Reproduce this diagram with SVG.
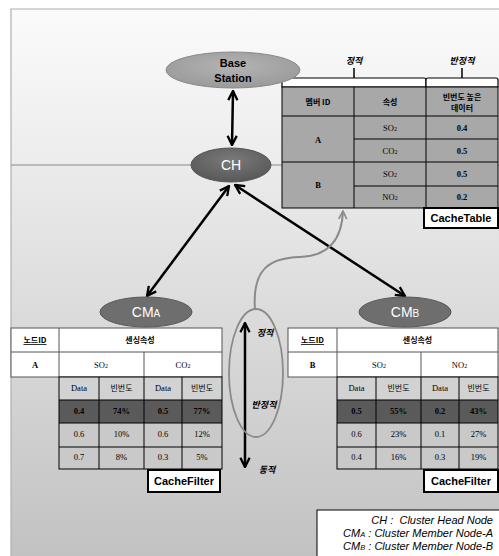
<svg xmlns="http://www.w3.org/2000/svg" width="499" height="556" viewBox="0 0 499 556">
<defs>
<linearGradient id="gTop" x1="0" y1="0" x2="0" y2="1"><stop offset="0" stop-color="#fbfbfb"/><stop offset="1" stop-color="#ececec"/></linearGradient>
<linearGradient id="gBot" x1="0" y1="0" x2="0" y2="1"><stop offset="0" stop-color="#ebebeb"/><stop offset="1" stop-color="#c2c2c2"/></linearGradient>
<radialGradient id="gBS" cx="0.5" cy="0.4" r="0.6"><stop offset="0" stop-color="#b4b4b4"/><stop offset="1" stop-color="#9a9a9a"/></radialGradient>
<radialGradient id="gCH" cx="0.5" cy="0.35" r="0.6"><stop offset="0" stop-color="#7a7a7a"/><stop offset="1" stop-color="#5a5a5a"/></radialGradient>
<marker id="ah" viewBox="0 0 10 10" refX="9" refY="5" markerWidth="4.6" markerHeight="4.6" orient="auto-start-reverse" markerUnits="strokeWidth">
<path d="M1,1 L9,5 L1,9" fill="none" stroke="#000" stroke-width="2"/>
</marker>
<marker id="ahg" viewBox="0 0 10 10" refX="9" refY="5" markerWidth="5" markerHeight="5" orient="auto" markerUnits="strokeWidth">
<path d="M1,1 L9,5 L1,9" fill="none" stroke="#8a8a8a" stroke-width="1.6"/>
</marker>
</defs>
<style>
.t{font-family:"Liberation Serif","Noto Sans CJK KR",serif;font-size:8.5px;fill:#000;text-anchor:middle}
.k{font-family:"Noto Sans CJK KR","Liberation Sans",sans-serif;font-size:8px;fill:#000;text-anchor:middle}
.b{font-weight:bold}
.lbl{font-family:"Liberation Sans","Noto Sans CJK KR",sans-serif;font-weight:bold;font-size:11px;text-anchor:middle;fill:#000}
.node{font-family:"Liberation Sans",sans-serif;font-size:14px;fill:#fff;text-anchor:middle}
.it{font-family:"Noto Sans CJK KR",sans-serif;font-style:italic;font-weight:bold;font-size:9px;fill:#000;text-anchor:middle}
.leg{font-family:"Liberation Sans",sans-serif;font-style:italic;font-size:11px;fill:#000;text-anchor:end}
.conn{stroke:#000;stroke-width:2.5;fill:none}
</style>
<rect x="0" y="0" width="499" height="556" fill="#fff"/>
<rect x="11" y="9" width="488" height="156" fill="url(#gTop)"/>
<rect x="11" y="165" width="488" height="391" fill="url(#gBot)"/>
<path d="M11,556 V9 H499" fill="none" stroke="#b0b0b0" stroke-width="1.2"/>
<line x1="11" y1="165" x2="499" y2="165" stroke="#8a8a8a" stroke-width="1"/>

<g id="cachetable">
<path d="M282,87 V80 Q282,78 284,78 H424 Q426,78 426,80 V87 Z" fill="#fff" stroke="#000" stroke-width="1.2"/>
<path d="M426,87 V80 Q426,78 428,78 H496 Q498,78 498,80 V87 Z" fill="#fff" stroke="#000" stroke-width="1.2"/>
<line x1="354" y1="78" x2="354" y2="68" stroke="#000" stroke-width="1.5"/>
<line x1="462" y1="78" x2="462" y2="68" stroke="#000" stroke-width="1.5"/>
<text class="it" x="354" y="64">정적</text>
<text class="it" x="462" y="64">반정적</text>
<rect x="282" y="87" width="216" height="121" fill="#a8a8a8" stroke="#000" stroke-width="1"/>
<g stroke="#000" stroke-width="1">
<line x1="354" y1="87" x2="354" y2="208"/>
<line x1="426" y1="87" x2="426" y2="208"/>
<line x1="282" y1="116" x2="498" y2="116"/>
<line x1="354" y1="139" x2="498" y2="139"/>
<line x1="282" y1="162" x2="498" y2="162"/>
<line x1="354" y1="186" x2="498" y2="186"/>
</g>
<text class="k b" x="318" y="105">멤버 ID</text>
<text class="k b" x="390" y="105">속성</text>
<text class="k b" x="462" y="100">빈번도 높은</text>
<text class="k b" x="462" y="111">데이터</text>
<text class="t b" x="318" y="143">A</text>
<text class="t" x="390" y="131">SO<tspan font-size="6">2</tspan></text>
<text class="t b" x="462" y="131">0.4</text>
<text class="t" x="390" y="154">CO<tspan font-size="6">2</tspan></text>
<text class="t b" x="462" y="154">0.5</text>
<text class="t b" x="318" y="188">B</text>
<text class="t" x="390" y="177">SO<tspan font-size="6">2</tspan></text>
<text class="t b" x="462" y="177">0.5</text>
<text class="t" x="390" y="200">NO<tspan font-size="6">2</tspan></text>
<text class="t b" x="462" y="200">0.2</text>
<rect x="424" y="208" width="74" height="20" fill="#fff" stroke="#000" stroke-width="2"/>
<text class="lbl" x="461" y="222">CacheTable</text>
</g>

<g id="connectors">
<line class="conn" x1="233" y1="91" x2="232" y2="145" marker-start="url(#ah)" marker-end="url(#ah)"/>
<line class="conn" x1="229" y1="186" x2="147" y2="296" marker-start="url(#ah)" marker-end="url(#ah)"/>
<line class="conn" x1="235" y1="185" x2="405" y2="296" marker-start="url(#ah)" marker-end="url(#ah)"/>
<path d="M255,310 C252,268 270,258 300,257 C330,256 342,238 343,211" fill="none" stroke="#8a8a8a" stroke-width="2" marker-end="url(#ahg)"/>
<line class="conn" x1="245" y1="323" x2="245" y2="467" marker-start="url(#ah)" marker-end="url(#ah)"/>
</g>

<g id="basestation">
<ellipse cx="233" cy="70" rx="67" ry="18" fill="url(#gBS)" stroke="#8a8a8a" stroke-width="1"/>
<text class="lbl" x="233" y="67" font-size="13.5">Base</text>
<text class="lbl" x="233" y="82" font-size="13.5">Station</text>
</g>

<g id="ch">
<ellipse cx="231" cy="165" rx="40" ry="17" fill="url(#gCH)" stroke="#555" stroke-width="1"/>
<text class="node" x="231" y="170">CH</text>
</g>

<g id="cma">
<ellipse cx="146" cy="312" rx="46" ry="15" fill="#6e6e6e" stroke="#555" stroke-width="1"/>
<text class="node" x="146" y="317">CM<tspan font-size="10">A</tspan></text>
</g>

<g id="cmb">
<ellipse cx="405" cy="312" rx="46" ry="15" fill="#6e6e6e" stroke="#555" stroke-width="1"/>
<text class="node" x="405" y="317">CM<tspan font-size="10">B</tspan></text>
</g>

<g id="spectrum">
<ellipse cx="256" cy="373" rx="27" ry="64" fill="none" stroke="#8a8a8a" stroke-width="1.8"/>
<text class="it" x="265" y="336">정적</text>
<text class="it" x="264" y="408">반정적</text>
<text class="it" x="267" y="473">동적</text>
</g>

<g id="cachefilter-a">
<rect x="11" y="328" width="211" height="49" fill="#fff" stroke="#555" stroke-width="1"/>
<g stroke="#555" stroke-width="1">
<line x1="11" y1="352" x2="222" y2="352"/>
<line x1="59" y1="328" x2="59" y2="377"/>
<line x1="144" y1="352" x2="144" y2="377"/>
</g>
<text class="k b" x="35" y="343" text-decoration="underline">노드ID</text>
<text class="k b" x="140" y="343">센싱속성</text>
<text class="t b" x="35" y="368">A</text>
<text class="t" x="101" y="368">SO<tspan font-size="6">2</tspan></text>
<text class="t" x="183" y="368">CO<tspan font-size="6">2</tspan></text>
<rect x="59" y="377" width="163" height="23" fill="#d2d2d2"/>
<rect x="59" y="400" width="163" height="23" fill="#5a5a5a"/>
<rect x="59" y="423" width="163" height="46" fill="#c9c9c9"/>
<g stroke="#000" stroke-width="1" fill="none">
<rect x="59" y="377" width="163" height="92"/>
<line x1="99" y1="377" x2="99" y2="469"/>
<line x1="144" y1="377" x2="144" y2="469"/>
<line x1="182" y1="377" x2="182" y2="469"/>
<line x1="59" y1="400" x2="222" y2="400"/>
<line x1="59" y1="423" x2="222" y2="423"/>
<line x1="59" y1="447" x2="222" y2="447"/>
</g>
<text class="t" x="79" y="391">Data</text>
<text class="k" x="121.5" y="391">빈번도</text>
<text class="t" x="163" y="391">Data</text>
<text class="k" x="202" y="391">빈번도</text>
<text class="t b" x="79" y="414">0.4</text>
<text class="t b" x="121.5" y="414">74%</text>
<text class="t b" x="163" y="414">0.5</text>
<text class="t b" x="202" y="414">77%</text>
<text class="t" x="79" y="437">0.6</text>
<text class="t" x="121.5" y="437">10%</text>
<text class="t" x="163" y="437">0.6</text>
<text class="t" x="202" y="437">12%</text>
<text class="t" x="79" y="460">0.7</text>
<text class="t" x="121.5" y="460">8%</text>
<text class="t" x="163" y="460">0.3</text>
<text class="t" x="202" y="460">5%</text>
<rect x="148" y="470" width="72" height="22" fill="#fff" stroke="#000" stroke-width="2"/>
<text class="lbl" x="184" y="485">CacheFilter</text>
</g>

<g id="cachefilter-b">
<rect x="288" y="328" width="210" height="49" fill="#fff" stroke="#555" stroke-width="1"/>
<g stroke="#555" stroke-width="1">
<line x1="288" y1="352" x2="498" y2="352"/>
<line x1="337" y1="328" x2="337" y2="377"/>
<line x1="421" y1="352" x2="421" y2="377"/>
</g>
<text class="k b" x="312.5" y="343" text-decoration="underline">노드ID</text>
<text class="k b" x="417.5" y="343">센싱속성</text>
<text class="t b" x="312.5" y="368">B</text>
<text class="t" x="379" y="368">SO<tspan font-size="6">2</tspan></text>
<text class="t" x="459.5" y="368">NO<tspan font-size="6">2</tspan></text>
<rect x="337" y="377" width="161" height="23" fill="#d2d2d2"/>
<rect x="337" y="400" width="161" height="23" fill="#5a5a5a"/>
<rect x="337" y="423" width="161" height="46" fill="#c9c9c9"/>
<g stroke="#000" stroke-width="1" fill="none">
<rect x="337" y="377" width="161" height="92"/>
<line x1="376" y1="377" x2="376" y2="469"/>
<line x1="421" y1="377" x2="421" y2="469"/>
<line x1="459" y1="377" x2="459" y2="469"/>
<line x1="337" y1="400" x2="498" y2="400"/>
<line x1="337" y1="423" x2="498" y2="423"/>
<line x1="337" y1="447" x2="498" y2="447"/>
</g>
<text class="t" x="356.5" y="391">Data</text>
<text class="k" x="398.5" y="391">빈번도</text>
<text class="t" x="440" y="391">Data</text>
<text class="k" x="478.5" y="391">빈번도</text>
<text class="t b" x="356.5" y="414">0.5</text>
<text class="t b" x="398.5" y="414">55%</text>
<text class="t b" x="440" y="414">0.2</text>
<text class="t b" x="478.5" y="414">43%</text>
<text class="t" x="356.5" y="437">0.6</text>
<text class="t" x="398.5" y="437">23%</text>
<text class="t" x="440" y="437">0.1</text>
<text class="t" x="478.5" y="437">27%</text>
<text class="t" x="356.5" y="460">0.4</text>
<text class="t" x="398.5" y="460">16%</text>
<text class="t" x="440" y="460">0.3</text>
<text class="t" x="478.5" y="460">19%</text>
<rect x="424" y="470" width="74" height="22" fill="#fff" stroke="#000" stroke-width="2"/>
<text class="lbl" x="461" y="485">CacheFilter</text>
</g>

<g id="legend">
<rect x="317" y="510" width="185" height="50" fill="#fff" stroke="#000" stroke-width="1"/>
<text class="leg" x="493" y="524" xml:space="preserve">CH :  Cluster Head Node</text>
<text class="leg" x="493" y="537">CM<tspan font-size="7.5">A</tspan> : Cluster Member Node-A</text>
<text class="leg" x="493" y="550">CM<tspan font-size="7.5">B</tspan> : Cluster Member Node-B</text>
</g>
</svg>
